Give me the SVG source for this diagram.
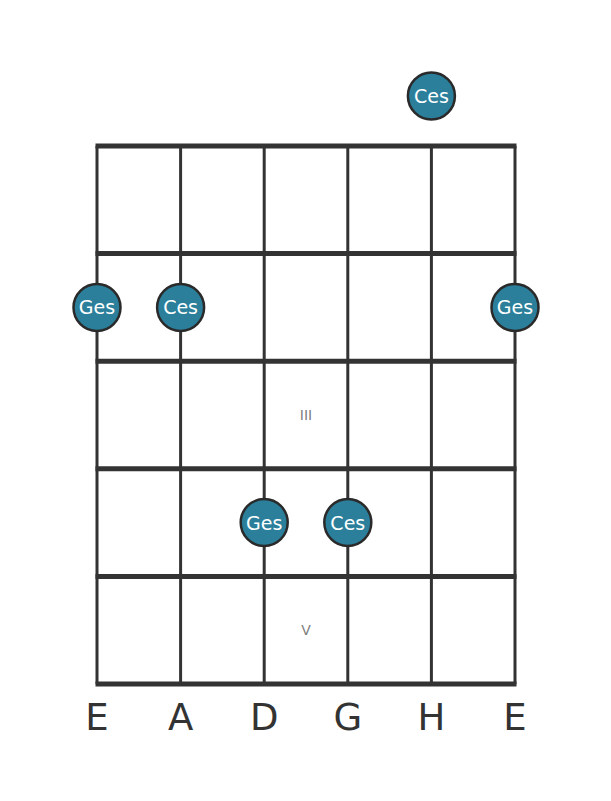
<svg xmlns="http://www.w3.org/2000/svg" width="611" height="801" viewBox="0 0 611 801">
<style>
.str{stroke:#333;stroke-width:3;fill:none}
.fret{stroke:#333;stroke-width:5;fill:none}
.note circle{fill:#2b7f9b;stroke:#2a2a2a;stroke-width:2.5}
.note text{fill:#fff;font-family:"DejaVu Sans",sans-serif;font-size:19px;text-anchor:middle;dominant-baseline:central}
.roman{fill:#808080;font-family:"DejaVu Sans",sans-serif;font-size:14px;text-anchor:middle;dominant-baseline:central}
.lbl{fill:#333;font-family:"DejaVu Sans",sans-serif;font-size:37px;text-anchor:middle}
</style>
<rect width="611" height="801" fill="#fff"/>
<g id="connectors">
<line class="str" x1="97" y1="146" x2="97" y2="684"/>
<line class="str" x1="180.6" y1="146" x2="180.6" y2="684"/>
<line class="str" x1="264.2" y1="146" x2="264.2" y2="684"/>
<line class="str" x1="347.8" y1="146" x2="347.8" y2="684"/>
<line class="str" x1="431.4" y1="146" x2="431.4" y2="684"/>
<line class="str" x1="515" y1="146" x2="515" y2="684"/>
<line class="fret" x1="95.5" y1="146" x2="516.5" y2="146"/>
<line class="fret" x1="95.5" y1="253.6" x2="516.5" y2="253.6"/>
<line class="fret" x1="95.5" y1="361.2" x2="516.5" y2="361.2"/>
<line class="fret" x1="95.5" y1="468.8" x2="516.5" y2="468.8"/>
<line class="fret" x1="95.5" y1="576.4" x2="516.5" y2="576.4"/>
<line class="fret" x1="95.5" y1="684" x2="516.5" y2="684"/>
</g>
<text class="roman" x="306" y="415">III</text>
<text class="roman" x="306" y="630">V</text>
<g id="n1" class="note"><circle cx="431.4" cy="96" r="23.5"/><text x="431.4" y="96">Ces</text></g>
<g id="n2" class="note"><circle cx="97" cy="307.4" r="23.5"/><text x="97" y="307.4">Ges</text></g>
<g id="n3" class="note"><circle cx="180.6" cy="307.4" r="23.5"/><text x="180.6" y="307.4">Ces</text></g>
<g id="n4" class="note"><circle cx="515" cy="307.4" r="23.5"/><text x="515" y="307.4">Ges</text></g>
<g id="n5" class="note"><circle cx="264.2" cy="522.6" r="23.5"/><text x="264.2" y="522.6">Ges</text></g>
<g id="n6" class="note"><circle cx="347.8" cy="522.6" r="23.5"/><text x="347.8" y="522.6">Ces</text></g>
<g id="labels">
<text class="lbl" x="97" y="730">E</text>
<text class="lbl" x="180.6" y="730">A</text>
<text class="lbl" x="264.2" y="730">D</text>
<text class="lbl" x="347.8" y="730">G</text>
<text class="lbl" x="431.4" y="730">H</text>
<text class="lbl" x="515" y="730">E</text>
</g>
</svg>
